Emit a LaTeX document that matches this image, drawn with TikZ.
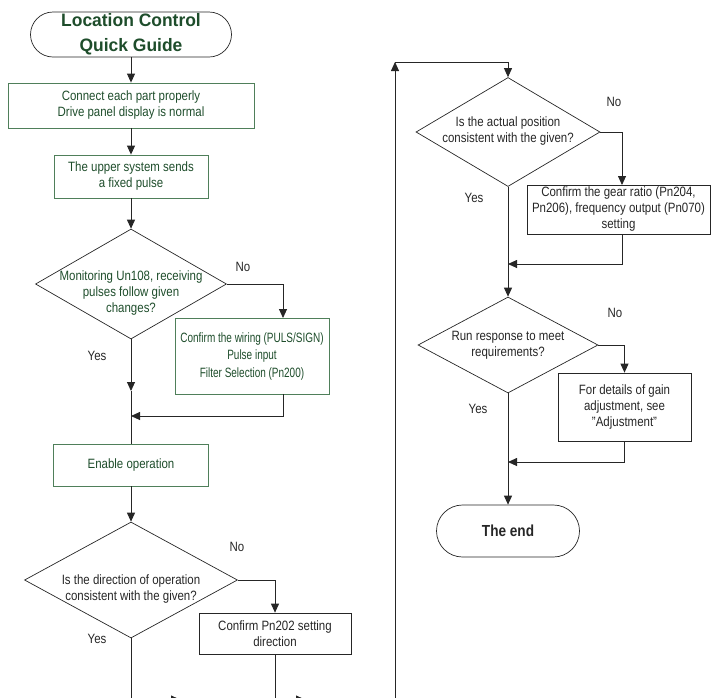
\documentclass[tikz,border=0pt]{standalone}
\usepackage{fontspec}
\setmainfont{Liberation Sans}[FakeStretch=0.85]
\newfontfamily\headfont{Liberation Sans}[FakeStretch=0.97]
\newfontfamily\narrowfont{Liberation Sans}[FakeStretch=0.74]
\usepackage{xcolor}
\usetikzlibrary{arrows.meta, positioning, shapes.geometric, shapes.misc}
\definecolor{boxgreen}{HTML}{4F7F5A}
\definecolor{txtgreen}{HTML}{1E4D2B}
\definecolor{txtgray}{HTML}{262626}

\begin{document}
\begin{tikzpicture}[x=1pt,y=-1pt,font=\fontsize{13.5}{16}\selectfont,
  term/.style={rounded rectangle, draw=black!85, line width=0.7pt, inner sep=0pt, align=center},
  gbox/.style={draw=boxgreen, line width=0.8pt, text=txtgreen, align=center, inner sep=0pt},
  kbox/.style={draw=black!85, line width=0.7pt, text=txtgray, align=center, inner sep=0pt},
  dec/.style={diamond, draw=black!85, line width=0.7pt, inner sep=0pt},
  qtext/.style={align=center, inner sep=0pt, text=txtgray},
  lbl/.style={text=txtgray, inner sep=0pt},
  flow/.style={draw=black!85, line width=0.9pt, -{Triangle[length=9pt,width=8pt]}},
  link/.style={draw=black!85, line width=0.9pt}]
  \useasboundingbox (0,0) rectangle (711,697);
  \clip (0,0) rectangle (711,697);

  % left column
  \node[term, minimum width=201pt, minimum height=45pt, text=txtgreen,
        font=\headfont\bfseries\fontsize{18}{25}\selectfont] (start) at (131,34.5) {Location Control\\Quick Guide};
  \node[gbox, minimum width=246pt, minimum height=45pt] (b1) at (131,105.5) {Connect each part properly\\Drive panel display is normal};
  \node[gbox, minimum width=154pt, minimum height=43pt] (b2) at (131,176.5) {The upper system sends\\a fixed pulse};
  \node[dec, minimum width=191pt, minimum height=110pt] (d1) at (131,284) {};
  \node[qtext, text=txtgreen] (d1q) at (131,293) {Monitoring Un108, receiving\\pulses follow given\\changes?};
  \node[gbox, minimum width=154pt, minimum height=76pt,
        font=\narrowfont\fontsize{13.5}{17.5}\selectfont] (b3) at (252,356) {Confirm the wiring (PULS/SIGN)\\Pulse input\\Filter Selection (Pn200)};
  \node[gbox, minimum width=155pt, minimum height=42pt] (b4) at (131,465) {Enable operation};
  \node[dec, minimum width=213pt, minimum height=116pt] (d2) at (131,580) {};
  \node[qtext] (d2q) at (131,589) {Is the direction of operation\\consistent with the given?};
  \node[kbox, minimum width=152pt, minimum height=41pt] (b5) at (275,633.5) {Confirm Pn202 setting\\direction};

  % right column
  \node[dec, minimum width=184pt, minimum height=109pt] (d3) at (508,132) {};
  \node[qtext] (d3q) at (508,131) {Is the actual position\\consistent with the given?};
  \node[kbox, minimum width=183pt, minimum height=49pt] (b6) at (618.5,209.5) {Confirm the gear ratio (Pn204,\\Pn206), frequency output (Pn070)\\setting};
  \node[dec, minimum width=180pt, minimum height=96pt] (d4) at (508,345) {};
  \node[qtext] (d4q) at (508,345) {Run response to meet\\requirements?};
  \node[kbox, minimum width=133pt, minimum height=68pt] (b7) at (624.5,407) {For details of gain\\adjustment, see\\"Adjustment"};
  \node[term, minimum width=143pt, minimum height=52pt, text=txtgray,
        font=\bfseries\fontsize{16}{18}\selectfont] (end) at (508,531) {The end};

  \node[lbl] (no1) at (243,267) {No};
  \node[lbl] (yes1) at (97,356) {Yes};
  \node[lbl] (no2) at (237,547) {No};
  \node[lbl] (yes2) at (97,639) {Yes};
  \node[lbl] (no3) at (614,102) {No};
  \node[lbl] (yes3) at (474,198) {Yes};
  \node[lbl] (no4) at (615,313) {No};
  \node[lbl] (yes4) at (478,409) {Yes};

  \coordinate (y1) at (131,391);
  \coordinate (j1) at (131,416);
  \coordinate (b3in) at (283,318);
  \coordinate (b3out) at (283,394);
  \coordinate (c1) at (131,699.5);
  \coordinate (a1) at (180,699.5);
  \coordinate (c2) at (275,699.5);
  \coordinate (a2) at (305,699.5);
  \coordinate (c3) at (395,699.5);
  \coordinate (c4) at (395,62);
  \coordinate (b6in) at (622,185);
  \coordinate (b6out) at (622,234);
  \coordinate (j2) at (508,264);
  \coordinate (j3) at (508,462);

  \draw[flow] (start.south) -- (b1.north);
  \draw[flow] (b1.south) -- (b2.north);
  \draw[flow] (b2.south) -- (d1.north);
  \draw[flow] (d1.south) -- (y1);
  \draw[link] (y1) -- (b4.north);
  \draw[flow] (d1.east) -| (b3in);
  \draw[flow] (b3out) |- (j1);
  \draw[flow] (b4.south) -- (d2.north);
  \draw[flow] (d2.east) -| (b5.north);
  \draw[link] (d2.south) -- (c1);
  \draw[link] (b5.south) -- (c2);
  \draw[flow] (c1) -- (a1);
  \draw[link] (a1) -- (c2);
  \draw[flow] (c2) -- (a2);
  \draw[link] (a2) -- (c3);
  \draw[flow] (c3) -- (c4);
  \draw[flow] (c4) -| (d3.north);
  \draw[flow] (d3.east) -| (b6in);
  \draw[flow] (d3.south) -- (d4.north);
  \draw[flow] (b6out) |- (j2);
  \draw[flow] (d4.east) -| (b7.north);
  \draw[flow] (b7.south) |- (j3);
  \draw[flow] (d4.south) -- (end.north);
\end{tikzpicture}
\end{document}
